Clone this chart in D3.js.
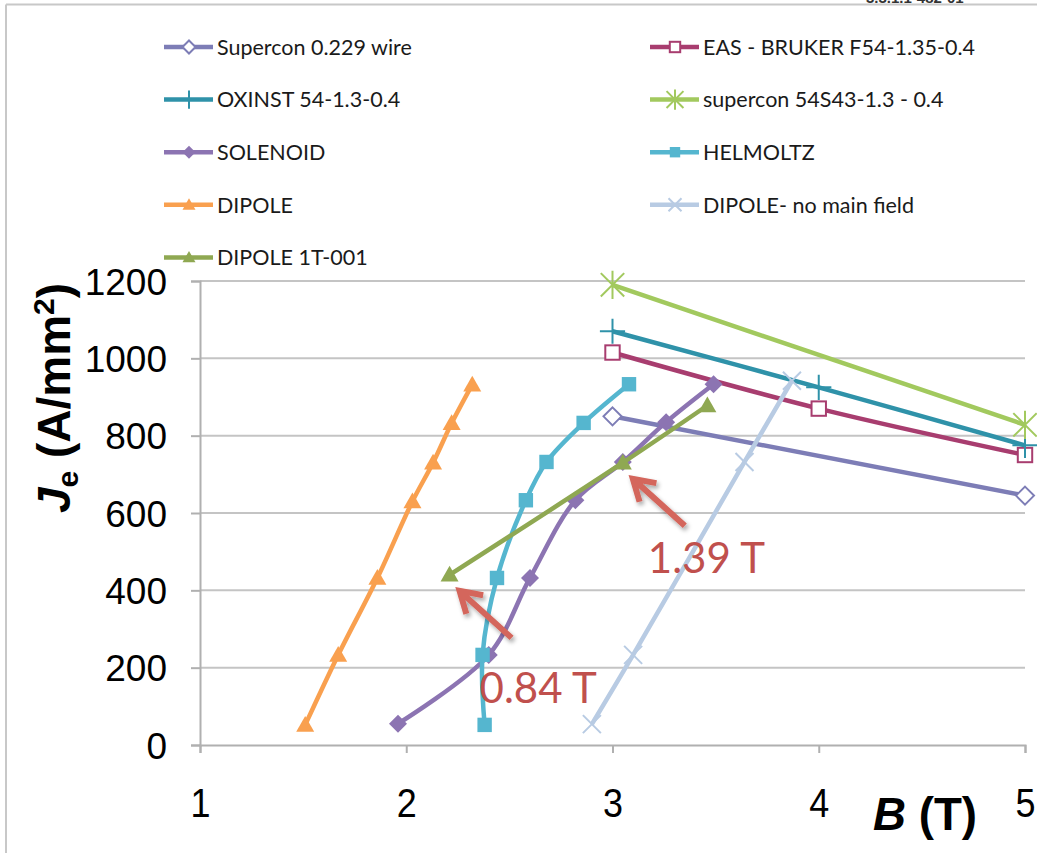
<!DOCTYPE html>
<html>
<head>
<meta charset="utf-8">
<script src="https://cdn.jsdelivr.net/npm/d3@7"></script>
<style>
  body { margin: 0; background: #fff; }
  svg { display: block; }
</style>
</head>
<body>
<svg id="chart" width="1037" height="853"></svg>
<script>
// series, in legend order (B in tesla, Je in A/mm2)
var seriesNames = ["Supercon 0.229 wire", "EAS - BRUKER F54-1.35-0.4", "OXINST 54-1.3-0.4",
  "supercon 54S43-1.3 - 0.4", "SOLENOID", "HELMOLTZ", "DIPOLE", "DIPOLE- no main field", "DIPOLE 1T-001"];

var supercon229B = [3, 5];
var supercon229J = [850, 645];
var easBrukerB = [3, 4, 5];
var easBrukerJ = [1015, 870, 750];
var oxinstB = [3, 4, 5];
var oxinstJ = [1070, 925, 775];
var supercon54B = [3, 5];
var supercon54J = [1190, 828];
var solenoidB = [1.96, 2.40, 2.60, 2.82, 3.05, 3.26, 3.49];
var solenoidJ = [55, 233, 432, 633, 732, 835, 933];
var helmoltzB = [2.38, 2.37, 2.44, 2.58, 2.68, 2.86, 3.08];
var helmoltzJ = [52, 233, 432, 633, 732, 833, 933];
var dipoleB = [1.51, 1.67, 1.86, 2.03, 2.13, 2.22, 2.32];
var dipoleJ = [52, 233, 432, 630, 730, 832, 932];
var dipoleNoMainB = [2.90, 3.10, 3.64, 3.87];
var dipoleNoMainJ = [54, 233, 732, 942];
var dipole1TB = [2.21, 3.05, 3.46];
var dipole1TJ = [440, 730, 878];

var xTicks = [1, 2, 3, 4, 5];
var yTicks = [0, 200, 400, 600, 800, 1000, 1200];

// annotation arrows point at DIPOLE 1T-001 points
var annotationLabels = ["1.39 T", "0.84 T"];
var annotationB = [3.05, 2.21];
var annotationJ = [730, 440];

var seriesB = [supercon229B, easBrukerB, oxinstB, supercon54B, solenoidB, helmoltzB, dipoleB, dipoleNoMainB, dipole1TB];
var seriesJ = [supercon229J, easBrukerJ, oxinstJ, supercon54J, solenoidJ, helmoltzJ, dipoleJ, dipoleNoMainJ, dipole1TJ];
var colors = ["#7d7db6", "#a83d6f", "#2f92a9", "#a2c95e", "#8c74b2", "#55b6cf", "#f9a04f", "#b8cbe3", "#8fa852"];
var markers = ["diamondOpen", "squareOpen", "plus", "star", "diamond", "square", "triangle", "cross", "triangle"];

var svg = d3.select("#chart");
var x = d3.scaleLinear().domain([1, 5]).range([200, 1025]);
var y = d3.scaleLinear().domain([0, 1200]).range([745, 281]);

var defs = svg.append("defs");
defs.append("filter").attr("id", "shadow")
  .attr("x", "-20%").attr("y", "-20%").attr("width", "160%").attr("height", "160%")
  .append("feDropShadow")
    .attr("dx", 2).attr("dy", 3).attr("stdDeviation", 2)
    .attr("flood-color", "#000").attr("flood-opacity", 0.35);

// slide frame lines and the document number peeking in at the top
svg.append("text").attr("x", 866).attr("y", 3)
  .attr("font-family", "Liberation Sans, Arial, sans-serif").attr("font-weight", "bold")
  .attr("font-size", 15).attr("fill", "#333").text("3.3.1.1-482-01");
svg.append("line").attr("x1", 6).attr("x2", 1037).attr("y1", 4.5).attr("y2", 4.5)
  .attr("stroke", "#c8c8c8").attr("stroke-width", 2);
svg.append("line").attr("x1", 6).attr("x2", 6).attr("y1", 4.5).attr("y2", 853)
  .attr("stroke", "#c8c8c8").attr("stroke-width", 2);

// gridlines
svg.append("g").selectAll("line")
  .data(yTicks.slice(1))
  .enter().append("line")
    .attr("x1", x(1)).attr("x2", x(5))
    .attr("y1", function(d) { return y(d); })
    .attr("y2", function(d) { return y(d); })
    .attr("stroke", "#c4c4c4").attr("stroke-width", 2);

// axes
var yAxis = svg.append("g")
  .attr("transform", "translate(" + x(1) + ",0)")
  .call(d3.axisLeft(y).tickValues(yTicks).tickSize(9).tickPadding(24).tickFormat(d3.format("d")));
var xAxis = svg.append("g")
  .attr("transform", "translate(0," + y(0) + ")")
  .call(d3.axisBottom(x).tickValues(xTicks).tickSize(8).tickPadding(36).tickFormat(d3.format("d")));

[yAxis, xAxis].forEach(function(ax) {
  ax.select(".domain").attr("stroke", "#b0b0b0").attr("stroke-width", 2);
  ax.selectAll(".tick line").attr("stroke", "#b0b0b0").attr("stroke-width", 2);
  ax.selectAll(".tick text")
    .attr("font-family", "Liberation Sans, Arial, sans-serif")
    .attr("fill", "#000");
});
yAxis.selectAll(".tick text").attr("font-size", 37).attr("dy", "0.36em");
// x labels look horizontally squeezed in the original
xAxis.selectAll(".tick text").attr("font-size", 40)
  .attr("textLength", 20).attr("lengthAdjust", "spacingAndGlyphs");

// axis titles
var yTitle = svg.append("text")
  .attr("transform", "translate(70,398) rotate(-90)")
  .attr("text-anchor", "middle")
  .attr("font-family", "Liberation Sans, Arial, sans-serif")
  .attr("font-weight", "bold").attr("font-size", 46);
yTitle.append("tspan").attr("font-style", "italic").text("J");
yTitle.append("tspan").attr("font-size", 30).attr("dy", 8).text("e");
yTitle.append("tspan").attr("dy", -8).text(" (A/mm");
yTitle.append("tspan").attr("font-size", 30).attr("dy", -16).text("2");
yTitle.append("tspan").attr("dy", 16).text(")");

var xTitle = svg.append("text")
  .attr("x", 925).attr("y", 830)
  .attr("text-anchor", "middle")
  .attr("font-family", "Liberation Sans, Arial, sans-serif")
  .attr("font-weight", "bold").attr("font-size", 46)
  .attr("textLength", 104).attr("lengthAdjust", "spacingAndGlyphs");
xTitle.append("tspan").attr("font-style", "italic").text("B");
xTitle.append("tspan").text(" (T)");

// marker drawing
function drawMarker(g, type, color, s) {
  var h = s / 2;
  if (type === "diamondOpen") {
    g.append("path").attr("d", "M0," + (-h) + "L" + h + ",0L0," + h + "L" + (-h) + ",0Z")
      .attr("fill", "#fff").attr("stroke", color).attr("stroke-width", 2);
  } else if (type === "diamond") {
    g.append("path").attr("d", "M0," + (-h) + "L" + h + ",0L0," + h + "L" + (-h) + ",0Z")
      .attr("fill", color);
  } else if (type === "squareOpen") {
    var q = h * 0.8;
    g.append("rect").attr("x", -q).attr("y", -q).attr("width", 2 * q).attr("height", 2 * q)
      .attr("fill", "#fff").attr("stroke", color).attr("stroke-width", 2);
  } else if (type === "square") {
    var q2 = h * 0.8;
    g.append("rect").attr("x", -q2).attr("y", -q2).attr("width", 2 * q2).attr("height", 2 * q2)
      .attr("fill", color);
  } else if (type === "triangle") {
    g.append("path").attr("d", "M0," + (-h) + "L" + h + "," + (h * 0.75) + "L" + (-h) + "," + (h * 0.75) + "Z")
      .attr("fill", color);
  } else if (type === "plus") {
    var p = h * 1.4;
    g.append("path").attr("d", "M" + (-p) + ",0H" + p + "M0," + (-p) + "V" + p)
      .attr("stroke", color).attr("stroke-width", 2);
  } else if (type === "star") {
    var r = h * 1.3;
    g.append("path").attr("d", "M" + (-r) + "," + (-r) + "L" + r + "," + r +
      "M" + (-r) + "," + r + "L" + r + "," + (-r) + "M0," + (-r * 1.2) + "V" + (r * 1.2))
      .attr("stroke", color).attr("stroke-width", 2);
  } else if (type === "cross") {
    var c = h;
    g.append("path").attr("d", "M" + (-c) + "," + (-c) + "L" + c + "," + c + "M" + (-c) + "," + c + "L" + c + "," + (-c))
      .attr("stroke", color).attr("stroke-width", 2);
  }
}

var line = d3.line()
  .x(function(d) { return x(d[0]); })
  .y(function(d) { return y(d[1]); })
  .curve(d3.curveCatmullRom.alpha(0.5));

var plot = svg.append("g");
seriesNames.forEach(function(name, i) {
  var pts = seriesB[i].map(function(b, k) { return [b, seriesJ[i][k]]; });
  var g = plot.append("g");
  g.append("path").datum(pts)
    .attr("d", line)
    .attr("fill", "none").attr("stroke", colors[i]).attr("stroke-width", 4.5)
    .attr("stroke-linejoin", "round");
  g.selectAll("g.m").data(pts).enter().append("g")
    .attr("class", "m")
    .attr("transform", function(d) { return "translate(" + x(d[0]) + "," + y(d[1]) + ")"; })
    .each(function() { drawMarker(d3.select(this), markers[i], colors[i], 18); });
});

// legend, two columns
var legend = svg.append("g");
seriesNames.forEach(function(name, i) {
  var col = i % 2, row = Math.floor(i / 2);
  var lx = col === 0 ? 164 : 650;
  var ly = 47 + row * 52.6;
  var g = legend.append("g").attr("transform", "translate(" + lx + "," + ly + ")");
  g.append("line").attr("x1", 0).attr("x2", 49).attr("y1", 0).attr("y2", 0)
    .attr("stroke", colors[i]).attr("stroke-width", 4.5);
  var mg = g.append("g").attr("transform", "translate(25,0)");
  drawMarker(mg, markers[i], colors[i], 13);
  g.append("text").attr("x", 53).attr("y", 0).attr("dy", "0.36em")
    .attr("font-family", "Lato, sans-serif").attr("font-size", 21.5)
    .attr("fill", "#1a1a1a").text(name);
});

// annotations with arrows
var annotations = svg.append("g");
annotationLabels.forEach(function(label, i) {
  var tx = x(annotationB[i]), ty = y(annotationJ[i]);
  var tipX = tx + 10, tipY = ty + 16;
  var tailX = tx + 62, tailY = ty + 63;
  var ang = Math.atan2(tipY - tailY, tipX - tailX);
  var hl = 24, ha = 0.55;
  var a = annotations.append("g").attr("filter", "url(#shadow)");
  a.append("path")
    .attr("d", "M" + tailX + "," + tailY + "L" + tipX + "," + tipY +
      "M" + (tipX - hl * Math.cos(ang - ha)) + "," + (tipY - hl * Math.sin(ang - ha)) +
      "L" + tipX + "," + tipY +
      "L" + (tipX - hl * Math.cos(ang + ha)) + "," + (tipY - hl * Math.sin(ang + ha)))
    .attr("fill", "none").attr("stroke", "#d4665c").attr("stroke-width", 6)
    .attr("stroke-linecap", "butt").attr("stroke-linejoin", "miter");
  annotations.append("text")
    .attr("x", i === 0 ? tx + 25 : tx + 30)
    .attr("y", i === 0 ? ty + 110 : ty + 128)
    .attr("font-family", "Lato, sans-serif").attr("font-size", 42)
    .attr("fill", "#c0504d").text(label);
});
</script>
</body>
</html>
